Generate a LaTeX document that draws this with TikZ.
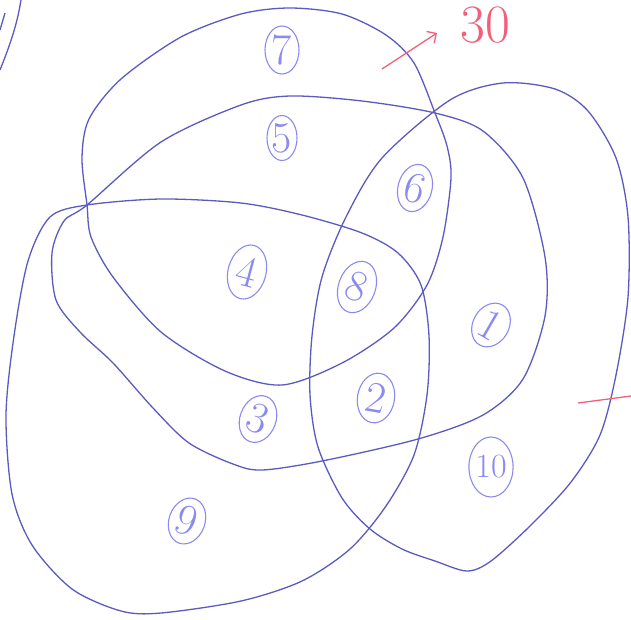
\documentclass[tikz,border=0pt]{standalone}
\usepackage{tikz}
\usetikzlibrary{arrows.meta,shapes.geometric}
\definecolor{pen}{HTML}{5A5AC0}
\definecolor{penlight}{HTML}{8A8AF0}
\definecolor{redpen}{HTML}{F0607A}

\begin{document}
\begin{tikzpicture}[x=1pt,y=-1pt,
  set/.style={draw=pen,line width=1.3pt},
  num/.style={ellipse,draw=penlight,text=penlight,line width=1.1pt,inner sep=0pt,
    minimum width=34pt,minimum height=48pt,font=\fontsize{44}{44}\selectfont}]
  \useasboundingbox (0,0) rectangle (631,619);
  % the four sets
  \draw[set] plot[smooth cycle] coordinates {(87,205) (82,158) (89,119) (121,79) (181,37)
    (241,14) (290,8) (342,14) (386,35) (414,63) (435,113) (447,146) (451,178) (443,237)
    (427,285) (394,328) (342,363) (282,385) (225,371) (161,332) (113,277) (91,237)};
  \draw[set] plot[smooth cycle] coordinates {(87,205) (161,142) (241,105) (290,96) (362,101)
    (435,113) (483,131) (523,178) (545,257) (545,316) (523,379) (483,415) (418,439)
    (322,461) (262,470) (233,464) (189,443) (153,408) (113,363) (80,332) (56,300)
    (52,253) (64,221)};
  \draw[set] plot[smooth cycle] coordinates {(50,217) (28,261) (14,336) (6,415) (12,494)
    (32,545) (72,589) (121,611) (161,613) (241,601) (302,581) (350,549) (386,506)
    (414,455) (427,395) (429,336) (421,285) (398,253) (362,233) (302,215) (241,203)
    (161,199) (87,205)};
  \draw[set] plot[smooth cycle] coordinates {(503,83) (450,100) (382,158)
    (346,217) (322,277) (312,336) (310,395) (318,447) (342,498) (370,529) (402,549)
    (435,561) (467,571) (491,561) (531,525) (571,482) (600,435) (616,375) (628,297)
    (628,217) (616,158) (588,111) (555,89)};
  % stray stroke top left
  \draw[set] (21,0) .. controls (17,25) and (10,45) .. (0,70);
  \draw[set] (5,13)--(0,30);
  % regions
  \node[num] (r7) at (282,50) {7};
  \node[num,minimum width=30pt,minimum height=45pt] (r5) at (282,138) {5};
  \node[num,rotate=-15,minimum width=38pt,minimum height=55pt] (r4) at (247,272) {4};
  \node[num,rotate=-15] (r6) at (415,188) {6};
  \node[num,rotate=-20,minimum width=37pt,minimum height=53pt] (r8) at (357,287) {8};
  \node[num,rotate=-30,minimum width=36pt,minimum height=46pt] (r1) at (491,325) {1};
  \node[num,rotate=-20,minimum width=36pt] (r3) at (258,419) {3};
  \node[num,rotate=-10,minimum width=37pt,minimum height=50pt] (r2) at (376,398) {2};
  \node[num,minimum width=43pt,minimum height=60pt,font=\fontsize{34}{34}\selectfont] (r10) at (491,467) {10};
  \node[num,rotate=-20,minimum width=36pt,minimum height=47pt] (r9) at (187,521) {9};
  % red marks
  \node[text=redpen,font=\fontsize{54}{54}\selectfont] (total) at (485,25) {30};
  \coordinate (tail) at (382,69);
  \coordinate (head) at (437,33);
  \draw[redpen,line width=1.3pt,-{Straight Barb[length=7pt]}] (tail)--(head);
  \coordinate (cutl) at (578,403);
  \coordinate (cutr) at (631,396);
  \draw[redpen,line width=1.3pt] (cutl)--(cutr);
\end{tikzpicture}
\end{document}
